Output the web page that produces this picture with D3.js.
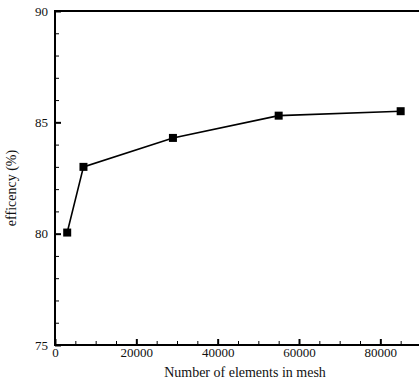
<!DOCTYPE html>
<html>
<head>
<meta charset="utf-8">
<script src="https://cdn.jsdelivr.net/npm/d3@7"></script>
<style>
  body { margin: 0; background: #fff; }
  svg { display: block; color: #000; }
  text { font-family: "Liberation Serif", "Times New Roman", serif; fill: #111; }
</style>
</head>
<body>
<div id="chart"></div>
<script>
// data
const elements = [3000, 7000, 29000, 55000, 85000];
const efficiency = [80.05, 83.0, 84.3, 85.3, 85.5];
const xTicks = [0, 20000, 40000, 60000, 80000];
const yTicks = [75, 80, 85, 90];

const width = 419;
const height = 382;
const margin = { top: 11, right: -2, bottom: 37, left: 55 };

const svg = d3.select('#chart')
    .append('svg')
    .attr('width', width)
    .attr('height', height);

const x = d3.scaleLinear()
    .domain([0, 90000])
    .range([margin.left, width - margin.right]);

const y = d3.scaleLinear()
    .domain([75, 90])
    .range([height - margin.bottom, margin.top]);

// frame
svg.append('rect')
    .attr('x', x(0))
    .attr('y', y(90))
    .attr('width', x(90000) - x(0))
    .attr('height', y(75) - y(90))
    .attr('fill', 'none')
    .attr('stroke', '#000')
    .attr('stroke-width', 2);

// minor ticks (inward)
const xMinor = d3.range(0, 90001, 5000).filter(v => v % 20000 !== 0);
const yMinor = d3.range(75, 90.01, 1).filter(v => v % 5 !== 0);

svg.append('g')
    .attr('transform', `translate(0,${y(75)})`)
    .call(d3.axisBottom(x).tickValues(xMinor).tickSize(-4).tickFormat(''))
    .call(g => g.select('.domain').remove());

svg.append('g')
    .attr('transform', `translate(${x(0)},0)`)
    .call(d3.axisLeft(y).tickValues(yMinor).tickSize(-4).tickFormat(''))
    .call(g => g.select('.domain').remove());

// major ticks
const xAxis = svg.append('g')
    .attr('transform', `translate(0,${y(75)})`)
    .call(d3.axisBottom(x).tickValues(xTicks).tickSize(-6).tickPadding(3).tickFormat(d3.format('d')))
    .call(g => g.select('.domain').remove());
xAxis.selectAll('line').attr('stroke-width', 2);
xAxis.selectAll('text').style('font-size', '13px').style('font-family', '"Liberation Serif", serif');

const yAxis = svg.append('g')
    .attr('transform', `translate(${x(0)},0)`)
    .call(d3.axisLeft(y).tickValues(yTicks).tickSize(-6).tickPadding(7))
    .call(g => g.select('.domain').remove());
yAxis.selectAll('line').attr('stroke-width', 2);
yAxis.selectAll('text').style('font-size', '13px').style('font-family', '"Liberation Serif", serif');

// axis titles
svg.append('text')
    .attr('x', 245)
    .attr('y', 377)
    .attr('text-anchor', 'middle')
    .style('font-size', '14px')
    .text('Number of elements in mesh');

svg.append('text')
    .attr('transform', `translate(16,${(y(75) + y(90)) / 2 + 10}) rotate(-90)`)
    .attr('text-anchor', 'middle')
    .style('font-size', '14px')
    .text('efficency (%)');

// line and markers
const points = elements.map((e, i) => ({ e, v: efficiency[i] }));

svg.append('path')
    .datum(points)
    .attr('fill', 'none')
    .attr('stroke', '#000')
    .attr('stroke-width', 1.6)
    .attr('d', d3.line().x(d => x(d.e)).y(d => y(d.v)));

svg.selectAll('.marker')
    .data(points)
    .enter()
    .append('rect')
    .attr('class', 'marker')
    .attr('x', d => x(d.e) - 4)
    .attr('y', d => y(d.v) - 4)
    .attr('width', 8)
    .attr('height', 8)
    .attr('fill', '#000');
</script>
</body>
</html>
